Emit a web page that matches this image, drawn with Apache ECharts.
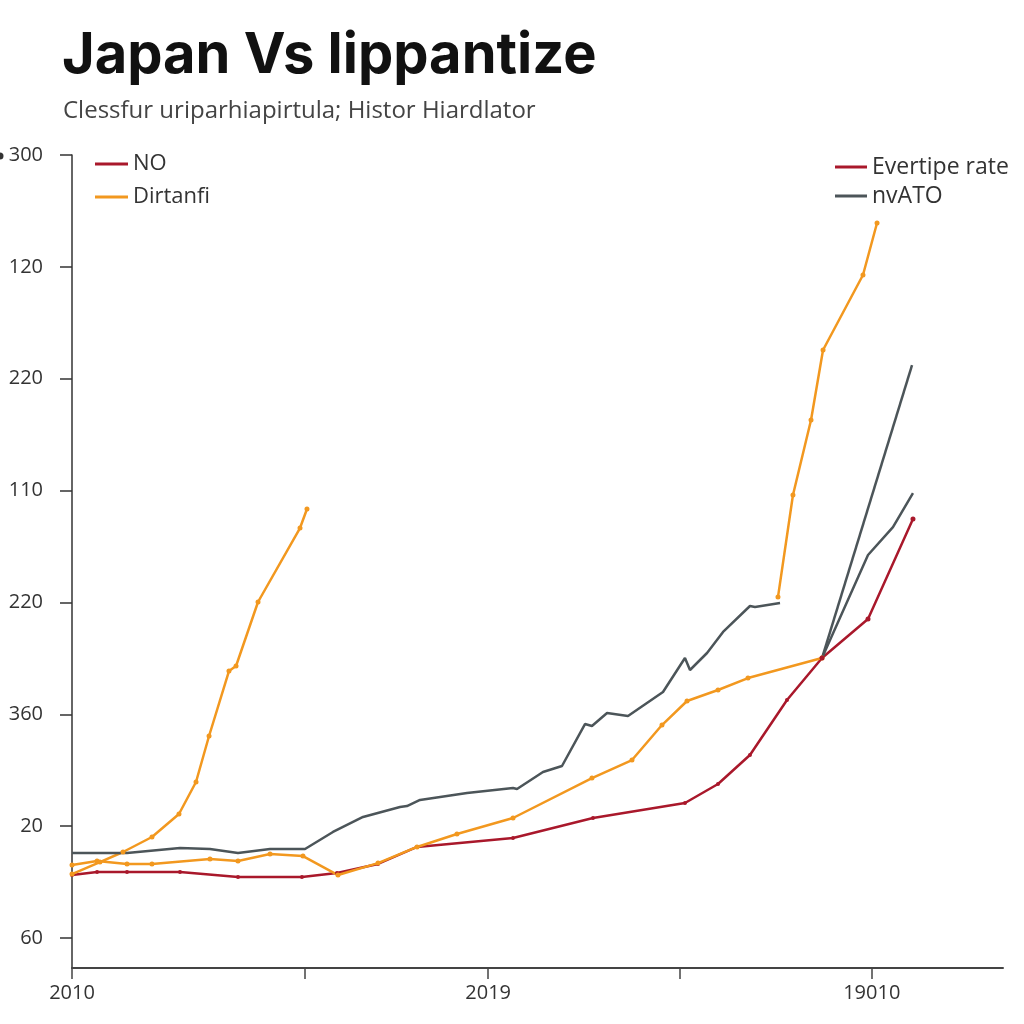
<!DOCTYPE html>
<html><head><meta charset="utf-8">
<script src="https://cdn.jsdelivr.net/npm/echarts@6/dist/echarts.min.js"></script>
<style>html,body{margin:0;padding:0;background:#fff}#c{width:1024px;height:1024px}</style>
</head><body><div id="c"></div>
<script>
// Tick labels (as printed on the reference)
const yTickLabels = ['60','20','360','220','110','220','120','300'];
const yTickPos = [0,1,2,3,4,5,6,7];
const xTickPos = [0, 25, 44.7, 65.3, 85.9];
const xLabelPos = [0, 44.7, 85.9];
const xTickLabels = ['2010','2019','19010'];

// Series values [x position, y position in axis units]
const noData = [[0,0.563],[2.69,0.59],[5.91,0.59],[11.6,0.59],[17.83,0.545],[24.7,0.545],[28.46,0.581],[32.87,0.662],[37.06,0.814],[47.37,0.894],[55.96,1.073],[65.84,1.207],[69.39,1.377],[72.82,1.636],[76.8,2.128],[80.56,2.503]];
const evertipeData = [[80.56,2.503],[85.5,2.852],[90.33,3.746]];
const dirtanfiFlat = [[0,0.653],[2.69,0.688],[5.91,0.662],[8.59,0.662],[14.82,0.706],[17.83,0.688],[21.27,0.751],[24.81,0.733],[28.57,0.563],[32.87,0.67],[37.06,0.814],[41.35,0.93],[47.37,1.073],[55.85,1.43],[60.15,1.591],[63.37,1.904],[66.06,2.119],[69.39,2.217],[72.61,2.324],[80.56,2.503]];
const dirtanfiLeft = [[0,0.572],[3.0,0.679],[5.48,0.769],[8.59,0.903],[11.49,1.109],[13.32,1.395],[14.72,1.806],[16.86,2.387],[17.62,2.432],[19.98,3.004],[24.49,3.665],[25.24,3.835]];
const dirtanfiRight = [[75.83,3.048],[77.44,3.96],[79.38,4.631],[80.67,5.257],[84.96,5.927],[86.47,6.392]];
const nvatoMain = [[0,0.76],[5.91,0.76],[11.6,0.805],[14.82,0.796],[17.83,0.76],[21.27,0.796],[25.03,0.796],[28.03,0.948],[31.26,1.082],[35.23,1.171],[35.98,1.18],[37.38,1.234],[42.43,1.296],[47.37,1.341],[47.8,1.332],[50.59,1.484],[52.63,1.538],[55.1,1.913],[55.85,1.895],[57.47,2.011],[59.72,1.985],[63.48,2.199],[65.84,2.503],[66.38,2.396],[68.21,2.548],[69.93,2.736],[72.82,2.968],[73.36,2.959],[76.05,2.995]];
const nvatoSteep = [[80.56,2.503],[90.23,5.122]];
const nvatoLayar = [[80.56,2.503],[85.5,3.424],[88.18,3.674],[90.33,3.978]];

const RED = '#a9182b', ORANGE = '#f2981f', GRAY = '#4c5559';
const chart = echarts.init(document.getElementById('c'), null, {renderer:'canvas'});
const lineS = (name, data, color, sym, extra) => Object.assign({
  type:'line', name, data, color,
  lineStyle:{width:2.5, color},
  itemStyle:{color},
  showSymbol: sym, symbol:'circle', symbolSize: sym ? 5 : 0,
  animation:false, silent:true, z: 3
}, extra || {});
const layarData = nvatoLayar.map((p,i)=> i === nvatoLayar.length-1 ? {value:p, label:{show:true, formatter:'Layar', position:'top', offset:[10,-6], fontSize:21, color:'#3d4448', fontFamily:'Open Sans'}} : p);

chart.setOption({
  backgroundColor:'#fff',
  title:[
    {text:'Japan Vs lippantize', left:57, top:23, textStyle:{fontFamily:'Inter', fontWeight:'bold', fontSize:56, color:'#111'}},
    {text:'Clessfur uriparhiapirtula; Histor Hiardlator', left:58, top:94, textStyle:{fontFamily:'Open Sans', fontWeight:'normal', fontSize:24, color:'#444'}}
  ],
  graphic:[{type:'circle', shape:{cx:0, cy:156, r:3.5}, style:{fill:'#333'}}],
  legend:[
    {data:['NO','Dirtanfi'], orient:'vertical', left:90, top:147, icon:'rect', itemWidth:33, itemHeight:3, itemGap:9,
     textStyle:{fontSize:22, color:'#333', fontFamily:'Open Sans', lineHeight:24}},
    {data:['Evertipe rate','nvATO'], orient:'vertical', left:830, top:150, icon:'rect', itemWidth:32, itemHeight:3, itemGap:5,
     textStyle:{fontSize:23, color:'#333', fontFamily:'Open Sans', lineHeight:24}}
  ],
  grid:{left:72, right:21, top:155, bottom:56, containLabel:false},
  xAxis:{type:'value', min:0, max:100,
    axisLine:{show:true, onZero:false, lineStyle:{color:'#444', width:2}},
    axisTick:{show:true, length:11, customValues:xTickPos, lineStyle:{color:'#444', width:1.5}},
    axisLabel:{show:true, customValues:xLabelPos, margin:15, fontSize:20, color:'#333', fontFamily:'Open Sans',
      formatter:v=>{const i=xLabelPos.findIndex(p=>Math.abs(p-v)<1e-6); return i>=0?xTickLabels[i]:'';}},
    splitLine:{show:false}},
  yAxis:{type:'value', min:-0.268, max:7,
    axisLine:{show:true, onZero:false, lineStyle:{color:'#333', width:1.5}},
    axisTick:{show:true, length:12, customValues:yTickPos, lineStyle:{color:'#333', width:1.5}},
    axisLabel:{show:true, customValues:yTickPos, margin:29, fontSize:20, color:'#333', fontFamily:'Open Sans',
      formatter:v=>{const i=yTickPos.findIndex(p=>Math.abs(p-v)<1e-6); return i>=0?yTickLabels[i]:'';}},
    splitLine:{show:false}},
  series:[
    lineS('NO', noData, RED, true, {symbolSize:4}),
    lineS('Dirtanfi', dirtanfiFlat, ORANGE, true),
    lineS('Dirtanfi', dirtanfiLeft, ORANGE, true),
    lineS('Dirtanfi', dirtanfiRight, ORANGE, true),
    lineS('Evertipe rate', evertipeData, RED, true),
    lineS('nvATO', nvatoMain, GRAY, false),
    lineS('nvATO', nvatoSteep, GRAY, false),
    lineS('nvATO', layarData, GRAY, false)
  ]
});
</script></body></html>
